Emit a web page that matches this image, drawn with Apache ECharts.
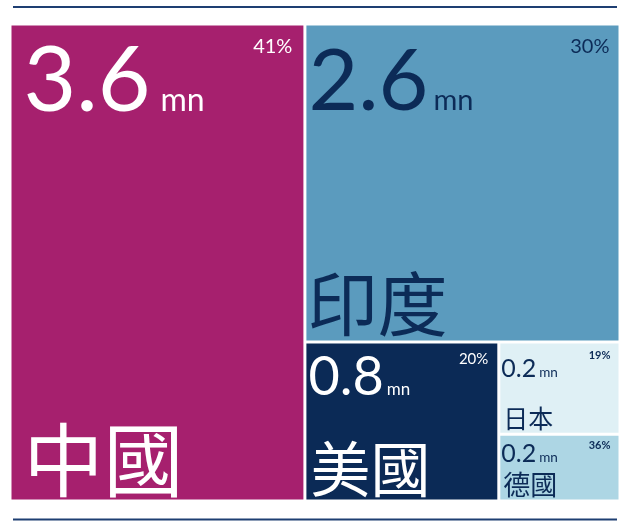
<!DOCTYPE html>
<html>
<head>
<meta charset="utf-8">
<script src="https://cdn.jsdelivr.net/npm/echarts@6/dist/echarts.min.js"></script>
<style>
  html, body { margin: 0; padding: 0; background: #ffffff; }
  #chart { width: 630px; height: 528px; }
</style>
</head>
<body>
<div id="chart"></div>
<script>
// ---- data (labels show them cut to one decimal) ----
const countries = ['中國', '印度', '美國', '日本', '德國'];
const amountsMn = [3.65, 2.6, 0.8, 0.29, 0.21];
const sharePct = [41, 30, 20, 19, 36];
const unitLabel = 'mn';

function shownAmount(v) {
  return (Math.floor(v * 10 + 1e-9) / 10).toFixed(1);
}

// ---- styles ----
const NUM_FONT = 'Lato';
const CJK_FONT = '"Noto Sans CJK TC"';
const RULE_COLOR = '#1E3F72';
const cellStyles = [
  { fill: '#A6206E', ink: '#FFFFFF', num: 91, numPad: [10.5, 0, 0, 12], unit: 32, unitPadB: 10, unitGap: 10,
    pct: 20, pctPad: [11, 11, 0, 0], pctWeight: 'normal', name: 80, namePad: [0, 0, 0, 12] },
  { fill: '#5B9BBE', ink: '#0C2B57', num: 86, numPad: [14, 0, 0, 2], unit: 29, unitPadB: 10, unitGap: 5,
    pct: 20, pctPad: [11, 9, 0, 0], pctWeight: 'normal', name: 70, namePad: [0, 0, 1, 1] },
  { fill: '#0B2A56', ink: '#FFFFFF', num: 54, numPad: [7, 0, 0, 2], unit: 17, unitPadB: 6.5, unitGap: 3,
    pct: 15, pctPad: [8, 9, 0, 0], pctWeight: 'normal', name: 60, namePad: [0, 0, 0, 4] },
  { fill: '#DFF0F5', ink: '#0C2B57', num: 25, numPad: [13, 0, 0, 1], unit: 13.5, unitPadB: 2, unitGap: 3,
    pct: 11, pctPad: [6, 8, 0, 0], pctWeight: 'bold', name: 25, namePad: [0, 0, 2, 3] },
  { fill: '#ADD6E4', ink: '#0C2B57', num: 25, numPad: [6, 0, 0, 1], unit: 13.5, unitPadB: 2, unitGap: 3,
    pct: 11, pctPad: [4, 8, 0, 0], pctWeight: 'bold', name: 27, namePad: [0, 0, 1, 3] }
];

const rich = {};
cellStyles.forEach((s, i) => {
  rich['v' + i] = { fontFamily: NUM_FONT, fontSize: s.num, lineHeight: s.num, color: s.ink, verticalAlign: 'bottom' };
  rich['u' + i] = { fontFamily: NUM_FONT, fontSize: s.unit, color: s.ink, verticalAlign: 'bottom',
                    padding: [0, 0, s.unitPadB, s.unitGap] };
});

function layer(extra) {
  return Object.assign({
    type: 'treemap',
    left: 11.5, top: 25.5, width: 607, height: 474,
    roam: false, nodeClick: false, silent: true, animation: false,
    breadcrumb: { show: false },
    sort: 'desc',
    squareRatio: 1,
    upperLabel: { show: false },
    itemStyle: { gapWidth: 3, borderWidth: 0, borderColor: 'transparent' },
    emphasis: { disabled: true }
  }, extra);
}

const option = {
  backgroundColor: '#ffffff',
  animation: false,
  graphic: [
    { type: 'line', shape: { x1: 13, y1: 7, x2: 617, y2: 7 }, style: { stroke: RULE_COLOR, lineWidth: 2 } },
    { type: 'line', shape: { x1: 13, y1: 519.5, x2: 617, y2: 519.5 }, style: { stroke: RULE_COLOR, lineWidth: 2 } }
  ],
  series: [
    layer({
      name: 'amount',
      label: { show: true, rich: rich, textBorderWidth: 0 },
      data: countries.map((n, i) => ({
        name: n,
        value: amountsMn[i],
        itemStyle: { color: cellStyles[i].fill },
        label: {
          position: 'insideTopLeft',
          padding: cellStyles[i].numPad,
          formatter: '{v' + i + '|' + shownAmount(amountsMn[i]) + '}{u' + i + '|' + unitLabel + '}'
        }
      }))
    }),
    layer({
      name: 'share',
      label: { show: true, textBorderWidth: 0 },
      data: countries.map((n, i) => ({
        name: n,
        value: amountsMn[i],
        itemStyle: { color: 'transparent' },
        label: {
          position: 'insideTopRight',
          formatter: sharePct[i] + '%',
          fontFamily: NUM_FONT,
          fontSize: cellStyles[i].pct,
          lineHeight: cellStyles[i].pct,
          fontWeight: cellStyles[i].pctWeight,
          color: cellStyles[i].ink,
          padding: cellStyles[i].pctPad
        }
      }))
    }),
    layer({
      name: 'country',
      label: { show: true, textBorderWidth: 0 },
      data: countries.map((n, i) => ({
        name: n,
        value: amountsMn[i],
        itemStyle: { color: 'transparent' },
        label: {
          position: 'insideBottomLeft',
          formatter: '{b}',
          fontFamily: CJK_FONT,
          fontSize: cellStyles[i].name,
          lineHeight: cellStyles[i].name,
          color: cellStyles[i].ink,
          padding: cellStyles[i].namePad
        }
      }))
    })
  ]
};

const chart = echarts.init(document.getElementById('chart'));
chart.setOption(option);
</script>
</body>
</html>
